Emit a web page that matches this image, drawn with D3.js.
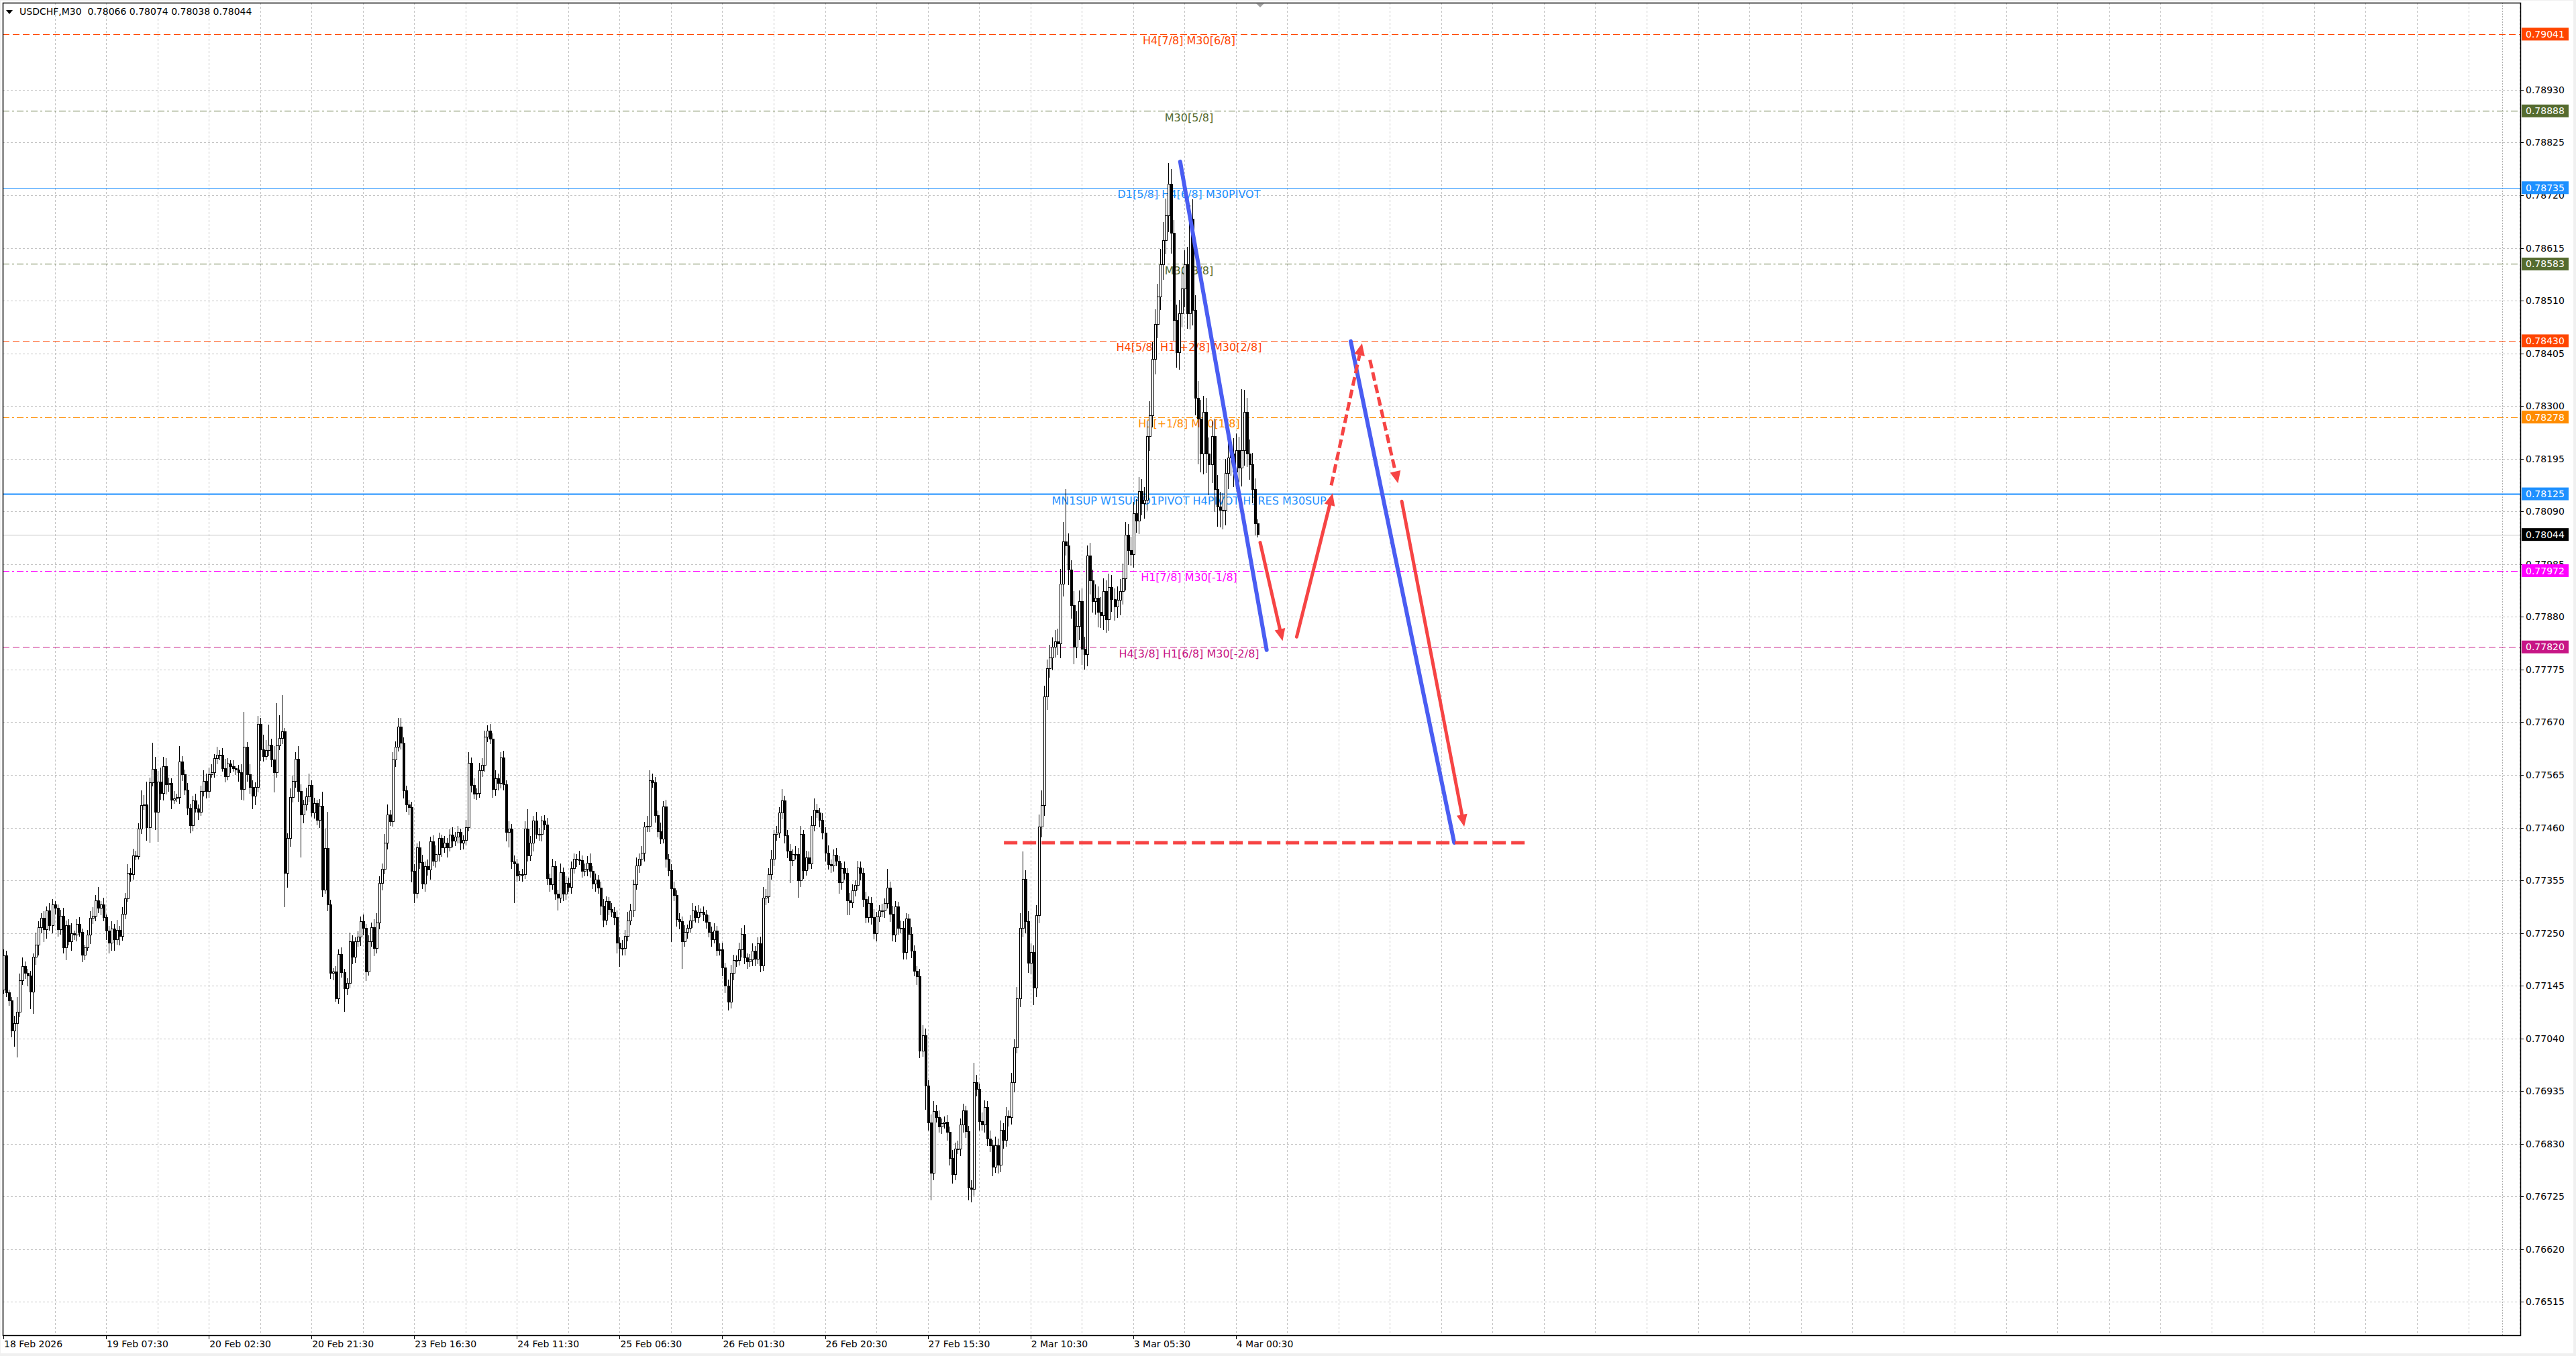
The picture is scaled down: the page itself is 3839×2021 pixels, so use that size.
<!DOCTYPE html>
<html>
<head>
<meta charset="utf-8">
<script src="https://cdn.jsdelivr.net/npm/d3@7"></script>
<style>
  body { margin: 0; background: #f0f0f0; }
  svg { display: block; }
  text { font-family: "DejaVu Sans", sans-serif; }
</style>
</head>
<body>
<svg id="chart"></svg>
<script>
// ---- data (prices in points, 1 point = 0.00001) ----
const chartTitle = 'USDCHF,M30  0.78066 0.78074 0.78038 0.78044';
const firstOpen = 77137;
const closes = [
  77205,77131,77115,77055,77070,77093,77155,77183,77170,77164,
  77133,77202,77226,77261,77280,77257,77294,77265,77306,77299,
  77257,77284,77221,77265,77233,77249,77246,77268,77251,77206,
  77221,77246,77280,77284,77314,77299,77306,77281,77254,77230,
  77258,77237,77256,77243,77287,77318,77369,77366,77404,77403,
  77457,77504,77505,77460,77550,77576,77491,77551,77528,77581,
  77546,77548,77515,77517,77520,77591,77565,77535,77499,77464,
  77513,77498,77491,77532,77552,77532,77566,77569,77598,77605,
  77604,77577,77562,77587,77581,77577,77575,77570,77536,77620,
  77565,77540,77523,77540,77666,77615,77602,77614,77625,77595,
  77570,77623,77638,77651,77369,77438,77520,77552,77596,77532,
  77485,77506,77522,77544,77490,77508,77475,77503,
  77336,77418,77306,77170,77172,77119,77208,77171,77139,77150,
  77233,77202,77233,77242,77273,77260,77173,77233,77261,77220,
  77270,77349,77377,77429,77486,77472,77595,77620,77660,77628,
  77534,77506,77500,77373,77329,77420,77390,77348,77383,77376,
  77432,77393,77407,77438,77420,77429,77420,77445,77433,77441,
  77450,77429,77435,77460,77588,77544,77527,77528,77573,77585,
  77641,77652,77636,77536,77558,77548,77599,77546,77450,77457,
  77392,77388,77364,77366,77366,77457,77404,77429,77473,77446,
  77447,77473,77465,77358,77346,77382,77328,77319,77371,77328,
  77349,77341,77378,77397,77396,77394,77373,77377,77389,77373,
  77348,77356,77340,77304,77276,77313,77297,77291,77281,77230,
  77220,77220,77244,77274,
  77294,77346,77384,77397,77409,77461,77463,77553,77549,77484,
  77452,77437,77501,77397,77375,77338,77325,77277,77273,77233,
  77251,77259,77274,77294,77281,77291,77291,77286,77271,77251,
  77237,77254,77216,77217,77180,77145,77112,77170,77195,77195,
  77217,77248,77200,77192,77196,77214,77198,77229,77184,77320,
  77322,77367,77397,77446,77449,77489,77513,77444,77413,77395,
  77406,77407,77354,77446,77374,77400,77388,77464,77495,77489,
  77475,77449,77409,77386,77384,77405,77393,77350,77378,77369,
  77314,77310,77335,77345,77380,77369,77317,77281,77309,77281,
  77249,77282,77294,77294,77309,77340,77288,77246,77302,77259,
  77259,77211,77278,77248,77214,77174,77163,77015,77046,76945,
  76872,76772,76895,76883,76864,76871,76873,76853,76801,76769,
  76819,76819,76868,76896,76854,76742,76739,76952,76938,76875,
  76868,76903,76840,76826,76784,76826,76787,76857,76837,76885,
  76882,76952,77022,77119,77260,77357,77273,77190,77211,77141,
  77285,77462,77504,77721,77777,77798,77819,77830,77826,77945,
  78029,78022,77973,77903,77819,77861,77910,77816,77805,78001,
  77952,77910,77917,77889,77882,77931,77875,77938,77914,77900,
  77913,77931,77956,78043,78012,78004,78085,78071,78130,78106,
  78113,78239,78281,78393,78463,78518,78581,78630,78679,78742,
  78644,78470,78407,78484,78533,78581,78484,78672,78491,
  78316,78274,78204,78288,78204,78183,78239,78134,78099,78092,
  78092,78166,78197,78204,78169,78211,78176,78211,78288,78204,
  78183,78134,78066,78044
];
// wick lengths above / below the candle body, in points
const upperWicks = [
  12,10,6,8,15,30,14,18,10,8, 10,8,25,12,10,14,9,16,12,8,
  8,12,16,10,12,20,6,10,14,8, 6,10,14,18,12,28,8,14,6,10,
  16,10,20,8,14,12,18,10,14,10, 12,30,20,46,10,53,25,22,28,20,
  18,12,10,16,8,31,12,10,14,8, 10,14,8,12,22,16,14,18,8,16,
  10,14,20,12,8,14,6,10,16,70, 10,22,14,10,16,12,30,20,40,12,
  28,85,46,73,8,10,18,12,14,26, 14,10,18,24,10,12,8,14,28,40,
  73,10,8,12,10,14,8,10,18,12, 8,12,10,14,8,12,10,16,20,14,
  12,18,20,10,16,12,19,18,12,10, 10,12,14,8,12,16,10,14,10,12,
  18,12,8,14,10,12,16,10,14,8, 10,16,22,12,14,10,16,14,12,12,
  14,12,16,10,12,14,8,16,10,12, 10,8,12,16,40,14,10,18,12,10,
  12,14,10,16,12,8,18,10,14,12, 14,12,10,18,10,12,14,20,10,12,
  10,12,14,10,8,12,10,14,12,16, 12,18,14,10,16,12,14,10,20,21,
  14,12,10,18,12,14,10,12,14,10, 12,10,14,8,12,16,10,14,8,12,
  10,14,12,16,10,12,14,10,12,16, 12,10,14,12,18,10,12,16,10,12,
  14,22,16,12,18,10,14,12,24,10, 12,14,10,16,12,18,10,14,12,20,
  23,12,10,14,12,16,10,12,14,10, 12,14,10,16,12,10,14,12,10,16,
  14,12,16,10,12,14,10,38,12,16, 12,10,16,14,12,10,14,12,10,16,
  20,14,12,16,20,12,14,10,12,14, 12,16,14,18,12,14,10,12,16,39,
  16,12,18,14,12,16,12,18,14,20, 14,18,12,20,16,24,30,56,18,20,
  18,14,20,24,30,22,18,26,20,24, 26,30,40,105,24,20,28,30,22,26,
  24,21,26,22,28,24,30,26,22,28, 26,22,28,24,30,26,22,28,24,30,
  28,24,26,32,28,34,30,26,32,36, 34,42,30,26,32,28,34,30,36,28,
  40,30,34,38,32,28,34,30,36,28, 30,34,28,36,30,32,34,28,122,44,
  28,30,24,22,8
];
const lowerWicks = [
  8,8,10,13,31,68,10,9,12,20, 35,44,15,20,12,25,18,10,15,12,
  14,10,12,25,8,18,10,12,8,14, 10,6,18,12,10,10,14,8,18,20,
  15,22,10,18,8,10,6,14,10,8, 6,10,8,26,30,8,36,60,12,14,
  20,14,18,8,6,12,12,10,14,16, 12,8,16,8,10,14,12,6,10,12,
  10,6,12,8,12,6,10,18,20,22, 14,12,26,18,10,22,10,8,12,14,
  40,10,8,12,67,28,16,10,12,20, 85,16,12,10,8,12,10,16,14,8,
  12,11,14,6,10,10,46,12,10,14, 12,10,18,14,19,8,10,16,10,12,
  14,10,12,8,10,14,8,12,16,14, 15,22,19,10,12,10,16,12,20,10,
  12,14,18,10,20,8,12,10,12,14, 12,10,8,14,10,12,8,12,14,10,
  10,16,12,14,10,12,18,30,14,79, 12,10,14,8,12,10,16,8,12,14,
  10,12,14,10,12,24,10,14,12,8, 12,10,14,8,12,10,14,12,10,16,
  12,18,14,10,12,10,16,20,38,14, 14,10,8,12,10,14,12,16,10,12,
  10,14,12,10,8,16,12,106,12,14, 16,54,10,12,8,14,10,12,10,12,
  12,10,14,8,12,10,16,14,16,12, 14,12,10,16,12,14,10,12,14,10,
  12,10,14,12,10,14,12,10,12,16, 14,45,12,10,34,12,16,10,12,10,
  12,10,14,12,16,10,14,12,10,21, 14,12,28,24,10,12,10,14,16,12,
  10,14,12,16,10,12,14,10,16,12, 14,12,10,14,14,12,14,10,16,14,
  12,47,16,54,14,10,12,14,10,16, 14,18,12,10,14,16,12,25,25,12,
  14,18,12,16,14,12,18,12,16,14, 16,12,18,14,20,12,16,18,24,20,
  22,35,18,16,22,20,26,18,24,20, 22,28,24,20,30,26,34,22,28,32,
  30,24,28,22,26,30,24,28,26,22, 24,28,22,30,26,24,28,22,26,24,
  26,24,30,22,28,24,30,28,26,30, 28,32,40,40,30,34,28,36,30,32,
  30,34,90,36,40,38,60,36,45,40, 34,38,30,32,36,30,34,28,36,30,
  26,30,28,24,6
];

const timeLabels = ['18 Feb 2026', '19 Feb 07:30', '20 Feb 02:30', '20 Feb 21:30', '23 Feb 16:30',
  '24 Feb 11:30', '25 Feb 06:30', '26 Feb 01:30', '26 Feb 20:30', '27 Feb 15:30',
  '2 Mar 10:30', '3 Mar 05:30', '4 Mar 00:30'];
const barsPerTimeLabel = 38;
const priceTicks = [0.78930, 0.78825, 0.78720, 0.78615, 0.78510, 0.78405, 0.78300, 0.78195,
  0.78090, 0.77985, 0.77880, 0.77775, 0.77670, 0.77565, 0.77460, 0.77355, 0.77250, 0.77145,
  0.77040, 0.76935, 0.76830, 0.76725, 0.76620, 0.76515];

const levelPrices = [0.79041, 0.78888, 0.78735, 0.78583, 0.78430, 0.78278, 0.78125, 0.77972, 0.77820];
const levelNames = ['H4[7/8] M30[6/8]', 'M30[5/8]', 'D1[5/8] H4[6/8] M30PIVOT', 'M30[3/8]',
  'H4[5/8] H1[+2/8] M30[2/8]', 'H1[+1/8] M30[1/8]', 'MN1SUP W1SUP D1PIVOT H4PIVOT H1RES M30SUP',
  'H1[7/8] M30[-1/8]', 'H4[3/8] H1[6/8] M30[-2/8]'];
const bidPrice = 0.78044;

// drawn objects: [start bar, end bar] and [start price, end price]
const trendBars = [[435.4, 467.4], [498.5, 536.8]];
const trendPrices = [[0.78787, 0.77814], [0.78429, 0.77430]];
const arrowBars = [[465.0, 473.3], [478.5, 491.8], [491.3, 502.7], [505.6, 516.0], [517.4, 540.5]];
const arrowPrices = [[0.78028, 0.77832], [0.77840, 0.78126], [0.78142, 0.78425], [0.78392, 0.78146], [0.78110, 0.77462]];
const targetBars = [370.2, 563.6];
const targetPrice = 0.77430;
const markerLineBar = 924.5;

// ---- styles ----
const levelColors = ['#FF4500', '#556B2F', '#1E90FF', '#556B2F', '#FF4500', '#FF8C00', '#1E90FF', '#FF00FF', '#C71585'];
const levelDash = ['10,5', '10,4,3,4', null, '10,4,3,4', '10,5', '10,4,3,4', null, '10,4,3,4', '10,5'];
const levelWidth = [1, 1, 1, 1, 1, 1, 2, 1, 1];
const arrowDashed = [false, false, true, true, false];
const blue = '#4A5DF2', red = '#F64444';

const W = 3839, H = 2021;
const plot = { left: 4, top: 4, right: 3756, bottom: 1990 };

const svg = d3.select('#chart').attr('width', W).attr('height', H);
svg.append('rect').attr('width', W).attr('height', H).attr('fill', '#f0f0f0');
svg.append('rect').attr('x', 1).attr('y', 1).attr('width', 3834).attr('height', 2016).attr('fill', '#fff');

// scales
const x = d3.scaleLinear().domain([0, 464]).range([5, 5 + 4.028 * 464]);
const y = d3.scaleLinear().domain([0.76515, 0.78930]).range([1940.4, 133.9]);

svg.append('clipPath').attr('id', 'plotClip')
  .append('rect').attr('x', plot.left).attr('y', plot.top)
  .attr('width', plot.right - plot.left).attr('height', plot.bottom - plot.top);

const g = svg.append('g').attr('clip-path', 'url(#plotClip)');

// grid
const grid = g.append('g').attr('stroke', '#c4c4c4').attr('stroke-dasharray', '3,3')
  .attr('shape-rendering', 'crispEdges');
grid.selectAll('line.h').data(priceTicks).enter().append('line')
  .attr('x1', plot.left).attr('x2', plot.right)
  .attr('y1', d => Math.round(y(d)) + 0.5).attr('y2', d => Math.round(y(d)) + 0.5);
const gridBars = d3.range(19, 1000, 19).filter(b => x(b) < plot.right);
grid.selectAll('line.v').data(gridBars).enter().append('line')
  .attr('y1', plot.top).attr('y2', plot.bottom)
  .attr('x1', d => Math.round(x(d)) + 0.5).attr('x2', d => Math.round(x(d)) + 0.5);

g.append('line').attr('x1', Math.round(x(markerLineBar)) + 0.5).attr('x2', Math.round(x(markerLineBar)) + 0.5)
  .attr('y1', plot.top).attr('y2', plot.bottom)
  .attr('stroke', '#b0b0b0').attr('stroke-dasharray', '2,2');

// level lines
g.selectAll('line.level').data(levelPrices).enter().append('line')
  .attr('x1', plot.left).attr('x2', plot.right)
  .attr('y1', d => Math.round(y(d)) + 0.5).attr('y2', d => Math.round(y(d)) + 0.5)
  .attr('stroke', (d, i) => levelColors[i])
  .attr('stroke-width', (d, i) => levelWidth[i])
  .attr('stroke-dasharray', (d, i) => levelDash[i]);

// bid line
g.append('line').attr('x1', plot.left).attr('x2', plot.right)
  .attr('y1', Math.round(y(bidPrice)) + 0.5).attr('y2', Math.round(y(bidPrice)) + 0.5)
  .attr('stroke', '#c0c0c0');

// level texts
g.selectAll('text.level').data(levelPrices).enter().append('text')
  .attr('x', 1772).attr('y', d => y(d) + 11)
  .attr('text-anchor', 'middle').attr('dominant-baseline', 'middle')
  .attr('font-size', 16).attr('fill', (d, i) => levelColors[i])
  .text((d, i) => levelNames[i]);

// candles
const candles = closes.map((c, i) => {
  const o = i === 0 ? firstOpen : closes[i - 1];
  return {
    i,
    o: o / 1e5,
    c: c / 1e5,
    h: (Math.max(o, c) + upperWicks[i]) / 1e5,
    l: (Math.min(o, c) - lowerWicks[i]) / 1e5
  };
});
const cg = g.append('g').attr('shape-rendering', 'crispEdges');
const cs = cg.selectAll('g.candle').data(candles).enter().append('g');
cs.append('line')
  .attr('x1', d => Math.round(x(d.i)) + 0.5).attr('x2', d => Math.round(x(d.i)) + 0.5)
  .attr('y1', d => y(d.h)).attr('y2', d => y(d.l))
  .attr('stroke', '#000').attr('stroke-width', 1.2);
cs.append('rect')
  .attr('x', d => Math.round(x(d.i)) - 1)
  .attr('y', d => y(Math.max(d.o, d.c)))
  .attr('width', 3)
  .attr('height', d => Math.max(1, Math.abs(y(d.o) - y(d.c))))
  .attr('fill', d => d.c >= d.o ? '#fff' : '#000')
  .attr('stroke', '#000').attr('stroke-width', 1);

// trend lines
const line = d3.line();
trendBars.forEach((b, k) => {
  g.append('path')
    .attr('d', line([[x(b[0]), y(trendPrices[k][0])], [x(b[1]), y(trendPrices[k][1])]]))
    .attr('stroke', blue).attr('stroke-width', 6).attr('stroke-linecap', 'round').attr('fill', 'none');
});

// target line
g.append('line')
  .attr('x1', x(targetBars[0])).attr('x2', x(targetBars[1]))
  .attr('y1', y(targetPrice)).attr('y2', y(targetPrice))
  .attr('stroke', red).attr('stroke-width', 5).attr('stroke-dasharray', '20,8');

// arrows
arrowBars.forEach((b, k) => {
  const x1 = x(b[0]), y1 = y(arrowPrices[k][0]);
  const x2 = x(b[1]), y2 = y(arrowPrices[k][1]);
  const len = Math.hypot(x2 - x1, y2 - y1);
  const ux = (x2 - x1) / len, uy = (y2 - y1) / len;
  const headLen = 18, headHalf = 8;
  const bx = x2 - ux * headLen, by = y2 - uy * headLen;
  g.append('path')
    .attr('d', line([[x1, y1], [bx, by]]))
    .attr('stroke', red).attr('stroke-width', 5).attr('fill', 'none')
    .attr('stroke-linecap', arrowDashed[k] ? 'butt' : 'round')
    .attr('stroke-dasharray', arrowDashed[k] ? '13,6' : null);
  g.append('path')
    .attr('d', line([[x2, y2], [bx - uy * headHalf, by + ux * headHalf], [bx + uy * headHalf, by - ux * headHalf]]) + 'Z')
    .attr('fill', red);
});

// frame
svg.append('rect').attr('x', plot.left + 0.5).attr('y', plot.top + 0.5)
  .attr('width', plot.right - plot.left).attr('height', plot.bottom - plot.top)
  .attr('fill', 'none').attr('stroke', '#000').attr('stroke-width', 1.5);

// shift marker
svg.append('path')
  .attr('d', line([[x(465) - 6, plot.top + 1], [x(465) + 6, plot.top + 1], [x(465), plot.top + 7]]) + 'Z')
  .attr('fill', '#a0a0a0');

// price axis
const pa = svg.append('g');
pa.selectAll('line').data(priceTicks).enter().append('line')
  .attr('x1', plot.right).attr('x2', plot.right + 5)
  .attr('y1', d => Math.round(y(d)) + 0.5).attr('y2', d => Math.round(y(d)) + 0.5)
  .attr('stroke', '#000');
pa.selectAll('text').data(priceTicks).enter().append('text')
  .attr('x', 3764).attr('y', d => y(d) + 1)
  .attr('dominant-baseline', 'middle').attr('font-size', 14).attr('fill', '#000')
  .text(d => d.toFixed(5));

// price boxes for levels and bid
const boxes = levelPrices.map((p, i) => ({ p, color: levelColors[i] }))
  .concat([{ p: bidPrice, color: '#000' }]);
const bx = svg.append('g');
bx.selectAll('rect').data(boxes).enter().append('rect')
  .attr('x', 3758).attr('y', d => y(d.p) - 9.5).attr('width', 70).attr('height', 19)
  .attr('fill', d => d.color);
bx.selectAll('text').data(boxes).enter().append('text')
  .attr('x', 3764).attr('y', d => y(d.p) + 1)
  .attr('dominant-baseline', 'middle').attr('font-size', 14).attr('fill', '#fff')
  .text(d => d.p.toFixed(5));

// time axis
const ta = svg.append('g');
ta.selectAll('line').data(timeLabels).enter().append('line')
  .attr('x1', (d, i) => Math.round(x(i * barsPerTimeLabel)) + 0.5)
  .attr('x2', (d, i) => Math.round(x(i * barsPerTimeLabel)) + 0.5)
  .attr('y1', plot.bottom).attr('y2', plot.bottom + 6).attr('stroke', '#000');
ta.selectAll('text').data(timeLabels).enter().append('text')
  .attr('x', (d, i) => x(i * barsPerTimeLabel) + 1).attr('y', 2004)
  .attr('dominant-baseline', 'middle')
  .attr('font-family', '"DejaVu Sans Condensed", "DejaVu Sans", sans-serif')
  .attr('font-size', 14).attr('fill', '#000')
  .text(d => d);

// title
svg.append('path').attr('d', 'M9,15 L19,15 L14,21 Z').attr('fill', '#000');
svg.append('text').attr('x', 29).attr('y', 18).attr('dominant-baseline', 'middle')
  .attr('font-size', 14).attr('fill', '#000').attr('xml:space', 'preserve')
  .style('white-space', 'pre')
  .text(chartTitle);
</script>
</body>
</html>
